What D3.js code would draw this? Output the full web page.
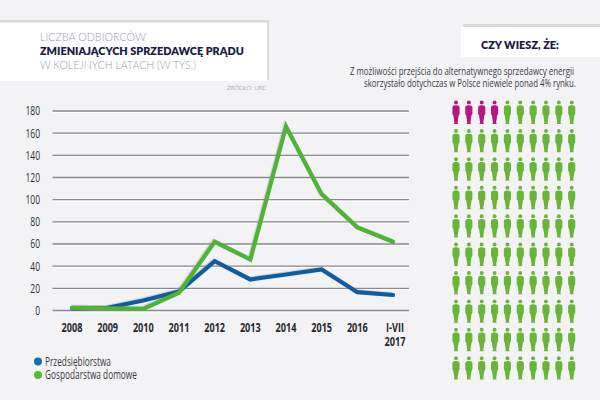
<!DOCTYPE html>
<html lang="pl">
<head>
<meta charset="utf-8">
<script src="https://cdnjs.cloudflare.com/ajax/libs/d3/7.8.5/d3.min.js"></script>
<style>
html,body{margin:0;padding:0;background:#f3f3f5;}
svg{display:block;}
.narrow{font-family:"Open Sans",sans-serif;}
.title{font-family:Lato,sans-serif;}
</style>
</head>
<body>
<svg id="chart" width="600" height="400"></svg>
<script>
// Dane: liczba odbiorców zmieniających sprzedawcę prądu (w tys.)
const categories = ["2008","2009","2010","2011","2012","2013","2014","2015","2016","I-VII|2017"];
const businesses = [2,2.5,9,17,44.5,28,32.5,37,16.5,14];
const households = [2.5,2,1.5,16,62,46,166,105,75,62];
const yTicks = [0,20,40,60,80,100,120,140,160,180];
const seriesNames = ["Przedsiębiorstwa","Gospodarstwa domowe"];
const seriesColors = ["#0f5c9e","#4fb337"];
const legendColors = ["#0f6cb5","#5cb83a"];
const titleLines = ["LICZBA ODBIORCÓW","ZMIENIAJĄCYCH SPRZEDAWCĘ PRĄDU","W KOLEJNYCH LATACH (W TYS.)"];
const factLines = ["Z możliwości przejścia do alternatywnego sprzedawcy energii","skorzystało dotychczas w Polsce niewiele ponad 4% rynku."];
const switchedShare = 4;
const peopleTotal = 100;
const peopleColumns = 10;

const svg = d3.select("#chart");

// Zwęża tekst w poziomie do zadanej szerokości, zachowując wysokość znaków
function fitText(sel, px, py, width) {
  sel.each(function(d,i){
    const node = d3.select(this);
    const k = width(d,i) / this.getComputedTextLength();
    node.attr("transform",`translate(${px(d,i)},${py(d,i)}) scale(${k},1)`);
  });
}

// Panele nagłówków
svg.append("rect").attr("x",0).attr("y",20).attr("width",269).attr("height",60).attr("fill","#d9d9db");
svg.append("rect").attr("x",0).attr("y",22.5).attr("width",267).attr("height",58.5).attr("fill","#fff");
svg.append("rect").attr("x",463).attr("y",24).attr("width",137).attr("height",3).attr("fill","#d9d9db");
svg.append("rect").attr("x",461).attr("y",27).attr("width",139).attr("height",30).attr("fill","#fff");

const titleStyle = [
  {y:40.7, weight:300, fill:"#9a9bb0", len:106},
  {y:54.5, weight:800, fill:"#1b1b45", len:204},
  {y:69.3, weight:300, fill:"#9a9bb0", len:156}
];
svg.append("g").selectAll("text").data(titleLines).join("text")
  .attr("class","title")
  .attr("font-size",11.6)
  .attr("font-weight",(d,i)=>titleStyle[i].weight)
  .attr("fill",(d,i)=>titleStyle[i].fill)
  .text(d=>d)
  .call(fitText,()=>40,(d,i)=>titleStyle[i].y,(d,i)=>titleStyle[i].len);

svg.append("text").attr("class","title")
  .attr("font-size",5.6).attr("font-weight",300).attr("fill","#77777f")
  .text("ŹRÓDŁO: URE")
  .call(fitText,()=>227,()=>89.5,()=>39);

svg.append("text").attr("class","title")
  .attr("font-size",12).attr("font-weight",800).attr("fill","#1b1b45")
  .text("CZY WIESZ, ŻE:")
  .call(fitText,()=>481,()=>49,()=>78);

const factX = [350,364], factY = [74.5,87], factW = [224,212];
svg.append("g").selectAll("text").data(factLines).join("text")
  .attr("class","narrow")
  .attr("font-size",11.5).attr("fill","#3a3a3e")
  .text(d=>d)
  .call(fitText,(d,i)=>factX[i],(d,i)=>factY[i],(d,i)=>factW[i]);

// Skale wykresu
const x = d3.scalePoint().domain(categories).range([72,393]);
const y = d3.scaleLinear().domain([0,180]).range([310.5,111]);

// Siatka pozioma
const grid = svg.append("g");
grid.selectAll("line.hi").data(yTicks).join("line").attr("class","hi")
  .attr("x1",52.5).attr("x2",409).attr("y1",d=>y(d)+1.4).attr("y2",d=>y(d)+1.4)
  .attr("stroke","#fff").attr("stroke-width",1);
grid.selectAll("line.main").data(yTicks).join("line").attr("class","main")
  .attr("x1",52.5).attr("x2",409).attr("y1",d=>y(d)).attr("y2",d=>y(d))
  .attr("stroke","#8a8a8c").attr("stroke-width",1.3);

// Etykiety osi
svg.append("g").selectAll("text").data(yTicks).join("text")
  .attr("class","narrow")
  .attr("text-anchor","end")
  .attr("transform",d=>`translate(40,${y(d)+4.4}) scale(0.68,1)`)
  .attr("font-size",12.5).attr("fill","#2f2f33").text(d=>d);

const xLabels = svg.append("g").selectAll("text").data(categories).join("text")
  .attr("class","narrow")
  .attr("text-anchor","middle")
  .attr("font-size",12).attr("font-weight",700).attr("fill","#26262a")
  .attr("transform",(d,i)=>`translate(${x(d)+(i===categories.length-1?2:0)},332) scale(0.76,1)`);
xLabels.selectAll("tspan").data(d=>d.split("|")).join("tspan")
  .attr("x",0)
  .attr("dy",(d,i)=>i===0?0:14)
  .text(d=>d);

// Linie serii
const line = d3.line().x((d,i)=>x(categories[i])).y(d=>y(d));
const seriesData = [businesses,households];
svg.append("g").selectAll("path.shade").data(seriesData).join("path").attr("class","shade")
  .attr("d",line).attr("fill","none").attr("stroke","#9a9aa8").attr("stroke-opacity",0.35)
  .attr("stroke-width",4.2).attr("transform","translate(-1,-1)");
svg.append("g").selectAll("path.series").data(seriesData).join("path").attr("class","series")
  .attr("d",line).attr("fill","none")
  .attr("stroke",(d,i)=>seriesColors[i]).attr("stroke-width",4.2)
  .attr("stroke-linejoin","miter").attr("stroke-linecap","round");

// Legenda
const legendY = [361.5,375], legendW = [66,92];
svg.append("g").selectAll("circle").data(seriesNames).join("circle")
  .attr("cx",38).attr("cy",(d,i)=>legendY[i]).attr("r",4).attr("fill",(d,i)=>legendColors[i]);
svg.append("g").selectAll("text").data(seriesNames).join("text")
  .attr("class","narrow").attr("font-size",12).attr("fill","#3a3a3e").text(d=>d)
  .call(fitText,()=>45,(d,i)=>legendY[i]+4,(d,i)=>legendW[i]);

// Piktogram: 100 osób, wyróżnione te, które zmieniły sprzedawcę
const col = d3.scalePoint().domain(d3.range(peopleColumns)).range([456,571.7]);
const row = d3.scalePoint().domain(d3.range(peopleTotal/peopleColumns)).range([100.3,356]);
const personBody = "M-1.2,5 L1.2,5 L2.9,5.7 Q3.6,6.1 3.6,7.2 L3.6,13.6 L2.7,15 L1.6,22.2 L2.3,23.6 L-2.3,23.6 L-1.6,22.2 L-2.7,15 L-3.6,13.6 L-3.6,7.2 Q-3.6,6.1 -2.9,5.7 Z";
const people = svg.append("g").selectAll("g").data(d3.range(peopleTotal)).join("g")
  .attr("transform",d=>`translate(${col(d%peopleColumns)},${row(Math.floor(d/peopleColumns))})`)
  .attr("fill",d=>d<switchedShare?"#b5177f":"#68b53a")
  .attr("stroke","#fff").attr("stroke-opacity",0.7).attr("stroke-width",0.8).attr("paint-order","stroke");
people.append("circle").attr("cx",0).attr("cy",2.2).attr("r",2);
people.append("path").attr("d",personBody);
</script>
</body>
</html>
